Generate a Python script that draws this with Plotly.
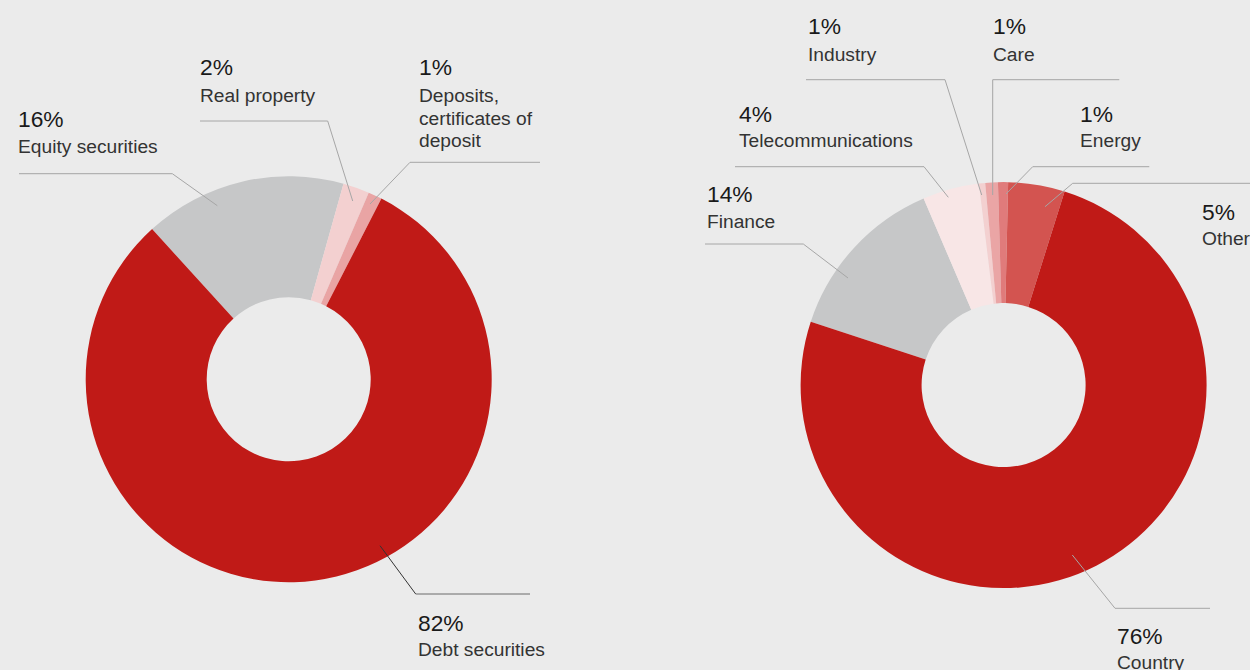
import plotly.graph_objects as go

W, H = 1250, 670

# ---- data ----
left_labels = ["Equity securities", "Real property", "Deposits, certificates of deposit", "Debt securities"]
left_values = [16.1, 2.1, 1.1, 80.7]
left_pct = ["16%", "2%", "1%", "82%"]

right_labels = ["Finance", "Telecommunications", "Industry", "Care", "Energy", "Other", "Country"]
right_values = [13.5, 4.5, 0.5, 1.0, 0.8, 4.5, 75.2]
right_pct = ["14%", "4%", "1%", "1%", "1%", "5%", "76%"]

left_colors = ["#c6c7c8", "#f3d0d0", "#e9a4a4", "#c01a17"]
right_colors = ["#c6c7c8", "#f8e6e6", "#f3d0d0", "#eaa5a5", "#e07b7b", "#d35450", "#c01a17"]

BG = "#ebebeb"


def px(x):
    return x / W


def py(y):
    return 1 - y / H


def domain(cx, cy, r):
    return dict(x=[px(cx - r), px(cx + r)], y=[py(cy + r), py(cy - r)])


fig = go.Figure()
fig.add_trace(go.Pie(
    labels=left_labels, values=left_values, sort=False, direction="clockwise",
    rotation=-42.3, hole=0.404, textinfo="none", showlegend=False,
    marker=dict(colors=left_colors, line=dict(width=0)),
    domain=domain(288.7, 379.2, 203),
))
fig.add_trace(go.Pie(
    labels=right_labels, values=right_values, sort=False, direction="clockwise",
    rotation=-71.8, hole=0.404, textinfo="none", showlegend=False,
    marker=dict(colors=right_colors, line=dict(width=0)),
    domain=domain(1003.6, 385.1, 203),
))

PCT_SIZE = 22.8
LAB_SIZE = 19.2
FONT = "Liberation Sans, Arial, sans-serif"

annotations = []


def text(x, baseline, t, size, color):
    annotations.append(dict(
        x=px(x - 1), y=py(baseline - 0.358 * size), xref="paper", yref="paper",
        text=t, showarrow=False, xanchor="left", yanchor="middle",
        font=dict(family=FONT, size=size, color=color),
    ))


def label(x, base_pct, pct, lines, base_first):
    text(x, base_pct, pct, PCT_SIZE, "#1a1a1a")
    for i, ln in enumerate(lines):
        text(x, base_first + i * 22.5, ln, LAB_SIZE, "#333333")


# left chart labels
label(17.3, 127.3, left_pct[0], ["Equity securities"], 153.3)
label(199.3, 75, left_pct[1], ["Real property"], 102.7)
label(418.3, 75, left_pct[2], ["Deposits,", "certificates of", "deposit"], 102.7)
label(416.7, 631, left_pct[3], ["Debt securities"], 656.7)

# right chart labels
label(706, 202.3, right_pct[0], ["Finance"], 228.3)
label(738.3, 121.7, right_pct[1], ["Telecommunications"], 147.7)
label(806.7, 34.3, right_pct[2], ["Industry"], 61.7)
label(992.3, 34.3, right_pct[3], ["Care"], 61.7)
label(1079, 121.7, right_pct[4], ["Energy"], 147.7)
label(1200.7, 220, right_pct[5], ["Other"], 245)
label(1116, 644, right_pct[6], ["Country"], 669.5)

shapes = []


def leader(points, color="#a6a6a6"):
    for (x0, y0), (x1, y1) in zip(points[:-1], points[1:]):
        shapes.append(dict(type="line", xref="paper", yref="paper",
                           x0=px(x0), y0=py(y0), x1=px(x1), y1=py(y1),
                           line=dict(color=color, width=1)))


leader([(19, 173.7), (172.3, 173.7), (217.3, 205.7)])
leader([(200, 121), (327.7, 121), (352.7, 201)])
leader([(540, 162.3), (410, 162.3), (370, 204)])
leader([(380, 545.7), (415.7, 594)], color="#333333")
leader([(415.7, 594), (530, 594)], color="#6b6b6b")

leader([(705, 244), (803.3, 244), (848, 278)])
leader([(735, 166.7), (924, 166.7), (948.3, 197.3)])
leader([(806, 79.7), (945, 79.7), (981.7, 195)])
leader([(1119.3, 79.7), (992.7, 79.7), (992.7, 195)])
leader([(1149.3, 166.7), (1032.7, 166.7), (1006, 194)])
leader([(1250, 183.3), (1072.7, 183.3), (1045, 206.7)])
leader([(1072.3, 555), (1115, 608.3), (1210, 608.3)])

fig.update_layout(
    width=W, height=H, margin=dict(l=0, r=0, t=0, b=0),
    paper_bgcolor=BG, plot_bgcolor=BG,
    annotations=annotations, shapes=shapes,
)

fig.write_html(
    "out.html",
    config={"displayModeBar": False},
    post_script="document.body.style.margin='0';document.body.style.background='#ebebeb';",
)
